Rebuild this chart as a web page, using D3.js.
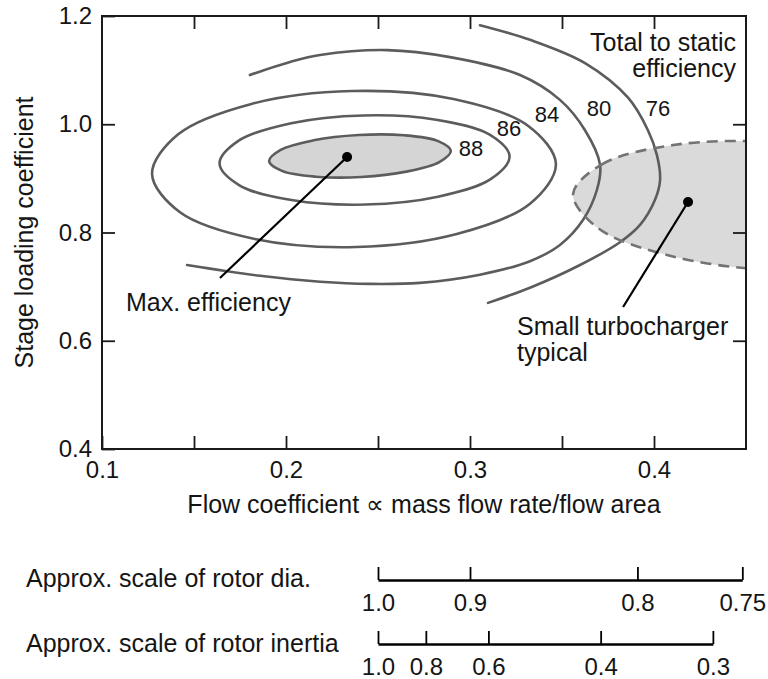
<!DOCTYPE html>
<html>
<head>
<meta charset="utf-8">
<script src="https://cdn.jsdelivr.net/npm/d3@7"></script>
<style>
  body { margin: 0; background: #fff; }
  text { font-family: "Liberation Sans", Arial, sans-serif; fill: #151515; }
</style>
</head>
<body>
<svg id="chart" width="768" height="679"></svg>
<script>
// ---- axes ----
const xDomain = [0.1, 0.45];
const yDomain = [0.4, 1.2];
const xTickValues = [0.1, 0.15, 0.2, 0.25, 0.3, 0.35, 0.4];
const xTickLabels = [0.1, 0.2, 0.3, 0.4];
const yTickValues = [0.4, 0.6, 0.8, 1.0, 1.2];

// ---- efficiency contours: [flow coefficient, stage loading coefficient] ----
const contourLevels = ["88", "86", "84", "80", "76"];
const contour88 = [[0.2896,0.9508],[0.2833,0.9301],[0.2654,0.9125],[0.2409,0.9025],[0.2161,0.9031],[0.1978,0.9138],[0.1908,0.9319],[0.1971,0.9526],[0.2150,0.9703],[0.2396,0.9801],[0.2643,0.9796],[0.2827,0.9689]];
const contour86 = [[0.3215,0.9404],[0.3112,0.8985],[0.2826,0.8661],[0.2433,0.8517],[0.2038,0.8595],[0.1747,0.8872],[0.1639,0.9275],[0.1741,0.9692],[0.2028,1.0018],[0.2421,1.0162],[0.2816,1.0084],[0.3107,0.9807]];
const contour84 = [[0.3467,0.9264],[0.3326,0.8532],[0.2928,0.7972],[0.2380,0.7732],[0.1830,0.7880],[0.1424,0.8373],[0.1272,0.9083],[0.1414,0.9814],[0.1812,1.0376],[0.2359,1.0614],[0.2910,1.0467],[0.3315,0.9973]];
const contour80 = [[0.1804,1.091],[0.2022,1.115],[0.2185,1.128],[0.2549,1.137],[0.2891,1.124],[0.3272,1.091],[0.3489,1.045],[0.3625,0.989],[0.3707,0.925],[0.369,0.879],[0.3614,0.823],[0.3489,0.777],[0.3326,0.747],[0.3054,0.722],[0.2728,0.707],[0.2457,0.705],[0.2185,0.709],[0.1859,0.720],[0.1462,0.740]];
const contour76 = [[0.3054,1.183],[0.3326,1.156],[0.3625,1.113],[0.3859,1.049],[0.3967,0.989],[0.4016,0.943],[0.4033,0.897],[0.4005,0.860],[0.3924,0.814],[0.3815,0.782],[0.3598,0.740],[0.3326,0.698],[0.3098,0.670]];
const contourLabelPos = [[0.3005,0.956],[0.3212,0.993],[0.3418,1.019],[0.3701,1.030],[0.4022,1.030]];

// ---- typical small turbocharger operating region ----
const turboRegion = [[0.356,0.871],[0.3717,0.926],[0.4114,0.962],[0.4652,0.967],[0.5185,0.940],[0.5565,0.888],[0.5701,0.827],[0.5543,0.771],[0.5147,0.736],[0.4609,0.731],[0.4076,0.758],[0.3696,0.808]];

// ---- marked points and their leader ends ----
const maxEffPoint = [0.2332, 0.9395];
const maxEffLeader = [0.1641, 0.7159];
const turboPoint = [0.4185, 0.8564];
const turboLeader = [0.3832, 0.6624];

// ---- auxiliary scales beneath the flow coefficient axis ----
const diaLabels = ["1.0", "0.9", "0.8", "0.75"];
const diaPhi = [0.25, 0.30, 0.391, 0.448];
const inertiaLabels = ["1.0", "0.8", "0.6", "0.4", "0.3"];
const inertiaPhi = [0.25, 0.276, 0.31, 0.371, 0.432];

const svg = d3.select("#chart");
const plot = { left: 102, top: 16, right: 746, bottom: 449 };
const x = d3.scaleLinear().domain(xDomain).range([plot.left, plot.right]);
const y = d3.scaleLinear().domain(yDomain).range([plot.bottom, plot.top]);

svg.append("defs").append("clipPath").attr("id", "plotClip")
  .append("rect")
  .attr("x", plot.left).attr("y", plot.top)
  .attr("width", plot.right - plot.left).attr("height", plot.bottom - plot.top);

const closedLine = d3.line().x(d => x(d[0])).y(d => y(d[1])).curve(d3.curveCatmullRomClosed.alpha(0.5));
const openLine = d3.line().x(d => x(d[0])).y(d => y(d[1])).curve(d3.curveCatmullRom.alpha(0.5));

const area = svg.append("g").attr("clip-path", "url(#plotClip)");

// operating region fill
area.append("path").attr("d", closedLine(turboRegion))
  .attr("fill", "#dadada").attr("stroke", "none");

// contours
const contourStroke = "#5c5c5c";
area.append("path").attr("d", closedLine(contour88))
  .attr("fill", "#d5d5d5").attr("stroke", contourStroke).attr("stroke-width", 2.6);
[contour86, contour84].forEach(c => {
  area.append("path").attr("d", closedLine(c))
    .attr("fill", "none").attr("stroke", contourStroke).attr("stroke-width", 2.6);
});
[contour80, contour76].forEach(c => {
  area.append("path").attr("d", openLine(c))
    .attr("fill", "none").attr("stroke", contourStroke).attr("stroke-width", 2.6)
    .attr("stroke-linecap", "round");
});

// dashed outline of the region
area.append("path").attr("d", closedLine(turboRegion))
  .attr("fill", "none").attr("stroke", "#737373").attr("stroke-width", 2.6)
  .attr("stroke-dasharray", "11,7");

// frame
svg.append("rect")
  .attr("x", plot.left).attr("y", plot.top)
  .attr("width", plot.right - plot.left).attr("height", plot.bottom - plot.top)
  .attr("fill", "none").attr("stroke", "#1a1a1a").attr("stroke-width", 2);

// axes with inward ticks
const tickFont = "24px";
const textFont = "25px";
const fmt1 = d3.format(".1f");
const xAxis = svg.append("g").attr("transform", `translate(0,${plot.bottom})`)
  .call(d3.axisBottom(x).tickValues(xTickValues).tickSize(-13).tickPadding(12)
    .tickFormat(d => xTickLabels.some(v => Math.abs(v - d) < 1e-9) ? fmt1(d) : ""));
const xAxisTop = svg.append("g").attr("transform", `translate(0,${plot.top})`)
  .call(d3.axisTop(x).tickValues(xTickValues.slice(1)).tickSize(-13).tickFormat(""));
const yAxis = svg.append("g").attr("transform", `translate(${plot.left},0)`)
  .call(d3.axisLeft(y).tickValues(yTickValues).tickSize(-13).tickPadding(10).tickFormat(fmt1));
const yAxisRight = svg.append("g").attr("transform", `translate(${plot.right},0)`)
  .call(d3.axisRight(y).tickValues(yTickValues.slice(1, -1)).tickSize(-13).tickFormat(""));
[xAxis, xAxisTop, yAxis, yAxisRight].forEach(g => {
  g.select(".domain").remove();
  g.selectAll(".tick line").attr("stroke", "#1a1a1a").attr("stroke-width", 1.8);
  g.selectAll(".tick text").attr("font-size", tickFont).attr("font-family", null).attr("fill", "#151515");
});

// axis titles
svg.append("text")
  .attr("transform", `translate(33,${(plot.top + plot.bottom) / 2}) rotate(-90)`)
  .attr("text-anchor", "middle").attr("font-size", textFont)
  .text("Stage loading coefficient");
svg.append("text")
  .attr("x", (plot.left + plot.right) / 2).attr("y", 513)
  .attr("text-anchor", "middle").attr("font-size", textFont)
  .text("Flow coefficient \u221D mass flow rate/flow area");

// contour labels
svg.append("g").selectAll("text").data(contourLevels).join("text")
  .attr("x", (d, i) => x(contourLabelPos[i][0]))
  .attr("y", (d, i) => y(contourLabelPos[i][1]))
  .attr("dy", "0.36em").attr("text-anchor", "middle").attr("font-size", "22px")
  .text(d => d);

// note on the contour quantity
const note = svg.append("text").attr("text-anchor", "end").attr("font-size", textFont);
note.append("tspan").attr("x", 736).attr("y", 51).text("Total to static");
note.append("tspan").attr("x", 736).attr("y", 77).text("efficiency");

// marked points with leaders
[[maxEffPoint, maxEffLeader], [turboPoint, turboLeader]].forEach(([p, q]) => {
  svg.append("line")
    .attr("x1", x(p[0])).attr("y1", y(p[1])).attr("x2", x(q[0])).attr("y2", y(q[1]))
    .attr("stroke", "#000").attr("stroke-width", 2.2);
  svg.append("circle").attr("cx", x(p[0])).attr("cy", y(p[1])).attr("r", 5).attr("fill", "#000");
});

svg.append("text").attr("x", 126).attr("y", 311).attr("font-size", textFont).text("Max. efficiency");
const turboText = svg.append("text").attr("font-size", textFont);
turboText.append("tspan").attr("x", 517).attr("y", 335).text("Small turbocharger");
turboText.append("tspan").attr("x", 517).attr("y", 361).text("typical");

// auxiliary scales
function auxScale(labels, phis, lineY, textY, title) {
  const s = d3.scaleLinear().domain([phis[0], phis[phis.length - 1]])
    .range([x(phis[0]), x(phis[phis.length - 1])]);
  const g = svg.append("g").attr("transform", `translate(0,${lineY})`)
    .call(d3.axisBottom(s).tickValues(phis).tickSize(-13).tickSizeOuter(0).tickPadding(14)
      .tickFormat((d, i) => labels[i]));
  g.select(".domain").attr("stroke", "#000").attr("stroke-width", 2.6);
  g.selectAll(".tick line").attr("stroke", "#000").attr("stroke-width", 1.8);
  g.selectAll(".tick text").attr("font-size", tickFont).attr("font-family", null).attr("fill", "#151515");
  svg.append("text").attr("x", 26).attr("y", textY).attr("font-size", textFont).text(title);
}
auxScale(diaLabels, diaPhi, 580, 587, "Approx. scale of rotor dia.");
auxScale(inertiaLabels, inertiaPhi, 644, 652, "Approx. scale of rotor inertia");
</script>
</body>
</html>
